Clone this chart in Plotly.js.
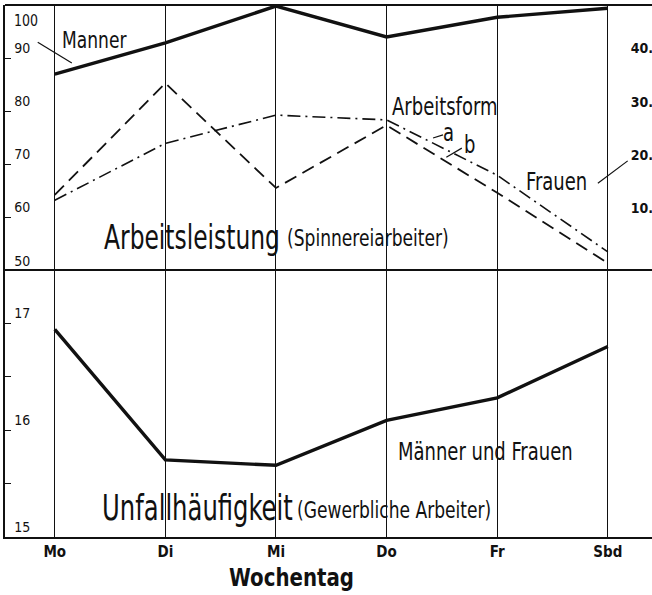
<!DOCTYPE html>
<html><head><meta charset="utf-8">
<script src="https://cdn.plot.ly/plotly-3.0.1.min.js"></script>
<style>html,body{margin:0;padding:0;background:#fff;overflow:hidden;width:652px;height:595px;}#chart{width:662px;height:595px;}</style>
</head><body><div id="chart"></div>
<script>
const days = ["Mo", "Di", "Mi", "Do", "Fr", "Sbd"];
const maenner = [87.0, 92.9, 99.8, 94.0, 97.7, 99.4];
const frauenA = [13.3, 24.0, 29.3, 28.4, 18.0, 3.6];
const frauenB = [14.3, 35.3, 15.6, 27.4, 14.7, 1.5];
const unfall = [16.94, 15.72, 15.67, 16.09, 16.30, 16.78];
const leftTicks = [50, 60, 70, 80, 90, 100];
const rightTicks = [10, 20, 30, 40];
const unfallTicks = [15, 15.5, 16, 16.5, 17];
const unfallTickText = ["15", "", "16", "", "17"];

const F = "DejaVu Sans Condensed, Liberation Sans Narrow, DejaVu Sans, sans-serif";
const black = "#111";

const traces = [
  {x: days, y: maenner, xaxis: "x", yaxis: "y", mode: "lines", line: {color: black, width: 3.4}, name: "Männer"},
  {x: days, y: frauenA, xaxis: "x", yaxis: "y3", mode: "lines", line: {color: black, width: 1.6, dash: "13px,5px,2px,5px"}, name: "a"},
  {x: days, y: frauenB, xaxis: "x", yaxis: "y3", mode: "lines", line: {color: black, width: 1.8, dash: "13px,7px"}, name: "b"},
  {x: days, y: unfall, xaxis: "x", yaxis: "y2", mode: "lines", line: {color: black, width: 3.4}, name: "Unfall"}
];

const stretch = [];
function ann(text, x, y, size, yref, s, extra) {
  stretch.push(s || 1.2);
  return Object.assign({text: text, x: x, y: y, xref: "x", yref: yref || "y", showarrow: false,
    font: {family: F, size: size, color: black}}, extra || {});
}
function seg(x0, y0, x1, y1, yref) {
  return {type: "line", xref: "x", yref: yref || "y", x0: x0, y0: y0, x1: x1, y1: y1, line: {color: black, width: 1.2}};
}

const layout = {
  width: 662, height: 595,
  margin: {l: 5, r: 0, t: 5, b: 58},
  paper_bgcolor: "#fff", plot_bgcolor: "#fff",
  showlegend: false,
  font: {family: F, color: black},
  xaxis: {
    type: "category", range: [-0.45, 5.49], anchor: "y2",
    showgrid: true, gridcolor: black, gridwidth: 1,
    showline: true, linecolor: black, linewidth: 1.8, mirror: true,
    ticks: "", tickfont: {family: F, size: 15, color: black, weight: "bold"},
    zeroline: false
  },
  yaxis: {
    domain: [0.5, 1], range: [50, 100], anchor: "x",
    tickvals: leftTicks.slice(0, 5), ticktext: leftTicks.slice(0, 5).map(String),
    ticks: "inside", ticklen: 6, tickcolor: black,
    ticklabelposition: "inside top", ticklabelstandoff: 8,
    tickfont: {family: F, size: 14, color: black},
    showgrid: false, zeroline: false,
    showline: true, linecolor: black, linewidth: 2
  },
  yaxis3: {
    overlaying: "y", side: "right", range: [0, 50], anchor: "x",
    tickvals: rightTicks, ticktext: rightTicks.map(v => v + "."),
    ticks: "", ticklabelposition: "inside top", ticklabelstandoff: 6,
    tickfont: {family: F, size: 14, color: black, weight: "bold"},
    showgrid: false, zeroline: false, showline: false
  },
  yaxis2: {
    domain: [0, 0.5], range: [15, 17.486], anchor: "x",
    tickvals: unfallTicks, ticktext: unfallTickText,
    ticks: "inside", ticklen: 6, tickcolor: black,
    ticklabelposition: "inside top", ticklabelstandoff: 8,
    tickfont: {family: F, size: 14, color: black},
    showgrid: false, zeroline: false,
    showline: true, linecolor: black, linewidth: 2
  },
  annotations: [
    ann(String(leftTicks[5]), 0.01, 0.99, 14, "paper", 1.15, {xref: "paper", xanchor: "left", yanchor: "top"}),
    ann("Manner", 0.36, 93.4, 19),
    ann("Arbeitsform", 3.53, 80.8, 20),
    ann("a", 3.56, 76.0, 20),
    ann("b", 3.75, 73.7, 20),
    ann("Frauen", 4.54, 66.7, 20),
    ann("Arbeitsleistung", 1.24, 56.4, 26, "y", 1.3),
    ann("(Spinnereiarbeiter)", 2.83, 56.2, 19),
    ann("Männer und Frauen", 3.89, 15.79, 20, "y2"),
    ann("Unfallhäufigkeit", 1.29, 15.28, 27, "y2", 1.3),
    ann("(Gewerbliche Arbeiter)", 3.07, 15.25, 19, "y2"),
    ann("Wochentag", 2.14, -0.076, 22, "paper", 1.1, {yanchor: "middle", font: {family: F, size: 22, color: black, weight: "bold"}})
  ],
  shapes: [
    {type: "line", xref: "paper", yref: "paper", x0: 0, x1: 1, y0: 1, y1: 1, line: {color: black, width: 2}},
    seg(-0.154, 93.0, 0.154, 89.1),
    seg(3.42, 75.0, 3.51, 75.6),
    seg(3.54, 71.4, 3.68, 73.1),
    seg(4.91, 66.5, 5.18, 70.7)
  ]
};

Plotly.newPlot("chart", traces, layout, {staticPlot: true}).then(gd => {
  gd.querySelectorAll("g.annotation").forEach(g => {
    const i = +g.getAttribute("data-index");
    const s = stretch[i] || 1;
    const t = g.querySelector("text.annotation-text");
    if (!t || s === 1) return;
    const b = t.getBBox();
    const cy = b.y + b.height / 2;
    const prev = t.getAttribute("transform") || "";
    t.setAttribute("transform", (prev + " translate(0," + cy + ") scale(1," + s + ") translate(0," + (-cy) + ")").trim());
  });
});
</script></body></html>
